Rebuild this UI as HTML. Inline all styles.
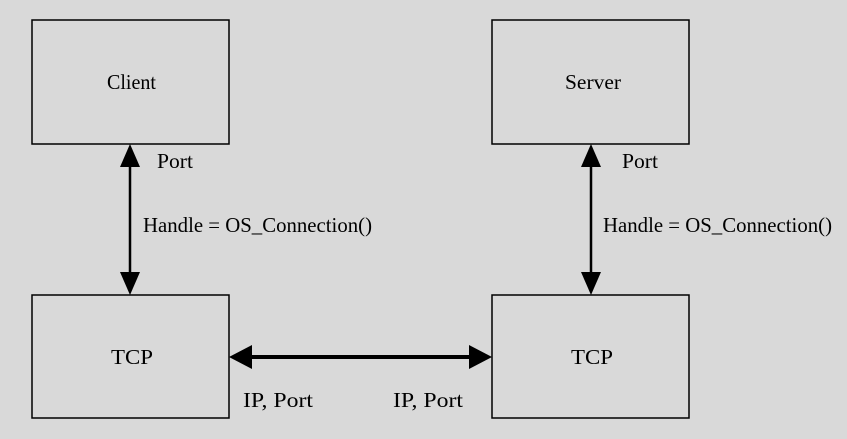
<!DOCTYPE html>
<html><head><style>html,body{margin:0;padding:0;background:#d9d9d9;}</style></head>
<body>
<svg width="847" height="439" viewBox="0 0 847 439" xmlns="http://www.w3.org/2000/svg" style="display:block">
<rect width="847" height="439" fill="#d9d9d9"/>
<g fill="none" stroke="#000" stroke-width="1.5">
<rect x="32" y="20" width="197" height="124"/>
<rect x="492" y="20" width="197" height="124"/>
<rect x="32" y="295" width="197" height="123"/>
<rect x="492" y="295" width="197" height="123"/>
</g>
<g stroke="#000" stroke-width="2.5">
<line x1="130" y1="160" x2="130" y2="280"/>
<line x1="591" y1="160" x2="591" y2="280"/>
</g>
<line x1="245" y1="357" x2="476" y2="357" stroke="#000" stroke-width="4"/>
<g fill="#000">
<polygon points="130,144 120,167 140,167"/>
<polygon points="130,295 120,272 140,272"/>
<polygon points="591,144 581,167 601,167"/>
<polygon points="591,295 581,272 601,272"/>
<polygon points="229,357 252,345 252,369"/>
<polygon points="492,357 469,345 469,369"/>
</g>
<g font-family="Liberation Serif, serif" font-size="21" fill="#000">
<text x="107" y="89" textLength="49" lengthAdjust="spacingAndGlyphs">Client</text>
<text x="565" y="89" textLength="56" lengthAdjust="spacingAndGlyphs">Server</text>
<text x="111" y="364" textLength="42" lengthAdjust="spacingAndGlyphs">TCP</text>
<text x="571" y="364" textLength="42" lengthAdjust="spacingAndGlyphs">TCP</text>
<text x="157" y="168" textLength="36" lengthAdjust="spacingAndGlyphs">Port</text>
<text x="622" y="168" textLength="36" lengthAdjust="spacingAndGlyphs">Port</text>
<text x="143" y="232" textLength="229" lengthAdjust="spacingAndGlyphs">Handle = OS_Connection()</text>
<text x="603" y="232" textLength="229" lengthAdjust="spacingAndGlyphs">Handle = OS_Connection()</text>
<text x="243" y="407" textLength="70" lengthAdjust="spacingAndGlyphs">IP, Port</text>
<text x="393" y="407" textLength="70" lengthAdjust="spacingAndGlyphs">IP, Port</text>
</g>
</svg>
</body></html>
